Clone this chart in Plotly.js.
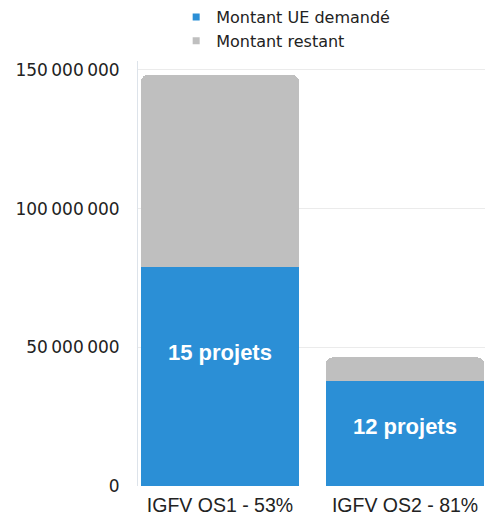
<!DOCTYPE html>
<html>
<head>
<meta charset="utf-8">
<script src="https://cdn.plot.ly/plotly-3.0.1.min.js"></script>
<style>html,body{margin:0;padding:0;background:#fff;}#chart{width:485px;height:518px;}</style>
</head>
<body>
<div id="chart"></div>
<script>
const categories = ["IGFV OS1 - 53%", "IGFV OS2 - 81%"];
const montantDemande = [78800000, 37800000];
const montantRestant = [69400000, 8600000];
const barLabels = ["15 projets", "12 projets"];
const seriesNames = ["Montant UE demandé", "Montant restant"];
const tickVals = [0, 50000000, 100000000, 150000000];
const tickText = ["0", "50\u2009000\u2009000", "100\u2009000\u2009000", "150\u2009000\u2009000"];

const blue = "#2b8fd6", gray = "#bfbfbf";
const fontA = "Liberation Sans, Arial, sans-serif";
const fontD = "DejaVu Sans, Verdana, sans-serif";
const textColor = "#222222";

const traces = [
  {type: "bar", x: categories, y: montantDemande, marker: {color: blue}, showlegend: false, hoverinfo: "skip"},
  {type: "bar", x: categories, y: montantRestant, marker: {color: gray}, showlegend: false, hoverinfo: "skip"},
  {type: "scatter", mode: "markers", x: [null], y: [null], name: seriesNames[0], marker: {symbol: "square", size: 7, color: blue}},
  {type: "scatter", mode: "markers", x: [null], y: [null], name: seriesNames[1], marker: {symbol: "square", size: 7, color: gray}}
];

const labelFactor = [0.61, 0.57];
const annotations = categories.map((c, i) => ({
  x: c, y: montantDemande[i] * labelFactor[i], xref: "x", yref: "y",
  text: "<b>" + barLabels[i] + "</b>", showarrow: false,
  font: {family: fontA, size: 22, color: "#ffffff"}
}));

const layout = {
  width: 485, height: 518,
  margin: {l: 138, r: 0, t: 60, b: 32},
  paper_bgcolor: "#ffffff", plot_bgcolor: "#ffffff",
  barmode: "stack", bargap: 0.145, barcornerradius: 7,
  font: {family: fontA, size: 15, color: textColor},
  showlegend: true,
  legend: {x: 0.11, y: 1.144, xanchor: "left", yanchor: "top", orientation: "v",
           traceorder: "normal", font: {family: fontD, size: 16, color: textColor},
           bgcolor: "rgba(0,0,0,0)", itemwidth: 30},
  xaxis: {type: "category", range: [-0.443, 1.432], showgrid: false, zeroline: false,
          showline: false, ticks: "", ticklabelstandoff: 5,
          tickfont: {family: fontA, size: 19.5, color: textColor}},
  yaxis: {range: [0, 153200000], tickvals: tickVals, ticktext: tickText,
          showgrid: true, gridcolor: "#ebebeb", gridwidth: 1, zeroline: false,
          showline: true, linecolor: "#dde3ea", linewidth: 1,
          ticks: "", ticklabelstandoff: 14,
          tickfont: {family: fontD, size: 17, color: textColor}},
  annotations: annotations
};

Plotly.newPlot("chart", traces, layout, {displayModeBar: false, staticPlot: true});
</script>
</body>
</html>
